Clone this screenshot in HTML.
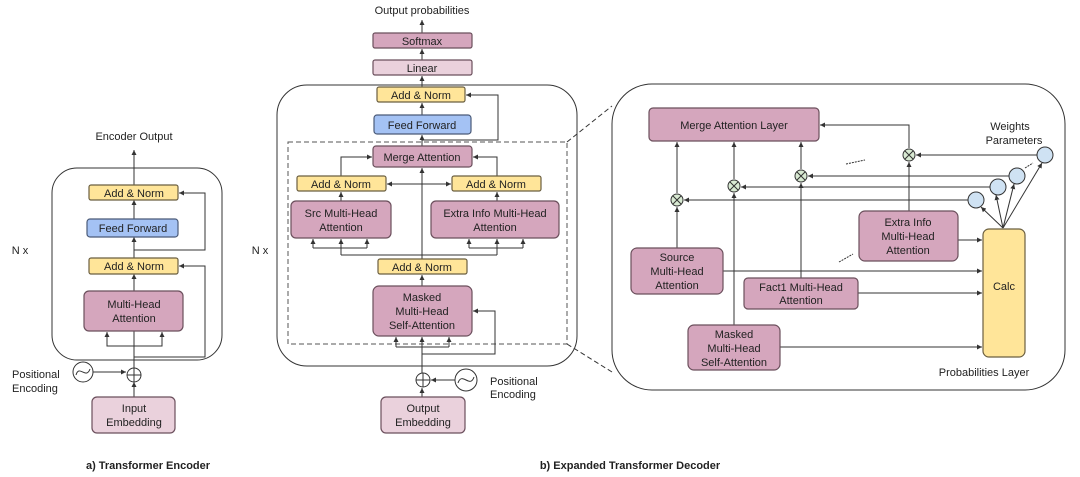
<!DOCTYPE html>
<html><head><meta charset="utf-8"><style>
body{margin:0;background:#fff}
svg{display:block}
text{font-family:"Liberation Sans",sans-serif;font-size:11px;fill:#222}
.p{fill:#d5a6bd;stroke:#6b4f5c;stroke-width:1.2}
.y{fill:#ffe599;stroke:#6b5f40;stroke-width:1.2}
.b{fill:#a4c2f4;stroke:#4a5a78;stroke-width:1.2}
.l{fill:#ead1dc;stroke:#6b4f5c;stroke-width:1.2}
.ln{stroke:#333;stroke-width:1;fill:none}
</style></head><body>
<svg width="1080" height="477" viewBox="0 0 1080 477" xmlns="http://www.w3.org/2000/svg">
<defs><marker id="a" markerWidth="6" markerHeight="6" refX="5" refY="3" orient="auto"><path d="M0,0.5 L5,3 L0,5.5z" fill="#333"/></marker></defs>
<g text-anchor="middle">
<!-- ENCODER -->
<rect x="52" y="168" width="170" height="192" rx="25" fill="none" stroke="#333"/>
<text x="134" y="140">Encoder Output</text>
<text x="20" y="254">N x</text>
<text x="260" y="254">N x</text>
<path class="ln" d="M134,397 V382"  marker-end="url(#a)"/>
<path class="ln" d="M134,368 V291" marker-end="url(#a)"/>
<path class="ln" d="M134,331 V274" marker-end="url(#a)"/>
<path class="ln" d="M134,258 V237" marker-end="url(#a)"/>
<path class="ln" d="M134,219 V200" marker-end="url(#a)"/>
<path class="ln" d="M134,185 V150" marker-end="url(#a)"/>
<path class="ln" d="M134,250 H205 V193 H179" marker-end="url(#a)"/>
<path class="ln" d="M134,357 H205 V266 H179" marker-end="url(#a)"/>
<path class="ln" d="M134,346 H107 V332" marker-end="url(#a)"/>
<path class="ln" d="M134,346 H162 V332" marker-end="url(#a)"/>
<rect class="y" x="89" y="185" width="89" height="15" rx="2"/><text x="134" y="197">Add &amp; Norm</text>
<rect class="b" x="87" y="219" width="91" height="18" rx="3"/><text x="133" y="232">Feed Forward</text>
<rect class="y" x="89" y="258" width="89" height="16" rx="2"/><text x="134" y="270">Add &amp; Norm</text>
<rect class="p" x="84" y="291" width="99" height="40" rx="5"/><text x="134" y="308">Multi-Head</text><text x="134" y="322">Attention</text>
<circle cx="134" cy="375" r="7" fill="#fff" stroke="#333"/><path class="ln" d="M127,375H141M134,368V382"/>
<circle cx="83" cy="372" r="10" fill="#fff" stroke="#333"/><path class="ln" d="M76,375 C79,364 86,380 90,369"/>
<path class="ln" d="M93,372 H126" marker-end="url(#a)"/>
<text x="12" y="378" text-anchor="start">Positional</text><text x="12" y="392" text-anchor="start">Encoding</text>
<rect class="l" x="92" y="397" width="83" height="36" rx="5"/><text x="134" y="412">Input</text><text x="134" y="426">Embedding</text>
<!-- DECODER -->
<text x="422" y="14">Output probabilities</text>
<rect x="277" y="85" width="300" height="281" rx="30" fill="none" stroke="#333"/>
<rect x="288" y="142" width="279" height="202" fill="none" stroke="#555" stroke-dasharray="5,3"/>
<path class="ln" stroke-dasharray="5,3" d="M567,142 L612,106 M567,344 L612,372"/>
<path class="ln" d="M422,33 V20" marker-end="url(#a)"/>
<path class="ln" d="M422,60 V49" marker-end="url(#a)"/>
<path class="ln" d="M422,87 V76" marker-end="url(#a)"/>
<path class="ln" d="M422,115 V103" marker-end="url(#a)"/>
<path class="ln" d="M422,146 V135" marker-end="url(#a)"/>
<path class="ln" d="M422,140 H498 V95 H466" marker-end="url(#a)"/>
<path class="ln" d="M422,259 V168" marker-end="url(#a)"/>
<path class="ln" d="M422,184 H387" marker-end="url(#a)"/>
<path class="ln" d="M422,184 H451" marker-end="url(#a)"/>
<path class="ln" d="M341,176 V157 H372" marker-end="url(#a)"/>
<path class="ln" d="M497,176 V157 H473" marker-end="url(#a)"/>
<path class="ln" d="M341,201 V192" marker-end="url(#a)"/>
<path class="ln" d="M497,201 V192" marker-end="url(#a)"/>
<path class="ln" d="M341,255 H497"/>
<path class="ln" d="M341,255 V239" marker-end="url(#a)"/>
<path class="ln" d="M313,248 H367"/><path class="ln" d="M313,248 V239" marker-end="url(#a)"/><path class="ln" d="M367,248 V239" marker-end="url(#a)"/>
<path class="ln" d="M497,255 V239" marker-end="url(#a)"/>
<path class="ln" d="M469,248 H523"/><path class="ln" d="M469,248 V239" marker-end="url(#a)"/><path class="ln" d="M523,248 V239" marker-end="url(#a)"/>
<path class="ln" d="M422,286 V275" marker-end="url(#a)"/>
<path class="ln" d="M422,397 V388" marker-end="url(#a)"/>
<path class="ln" d="M422,373 V337" marker-end="url(#a)"/>
<path class="ln" d="M422,354 H495 V311 H473" marker-end="url(#a)"/>
<path class="ln" d="M396,347 H449"/><path class="ln" d="M396,347 V337" marker-end="url(#a)"/><path class="ln" d="M449,347 V337" marker-end="url(#a)"/>
<rect class="p" x="373" y="33" width="99" height="15" rx="2"/><text x="422" y="45">Softmax</text>
<rect class="l" x="373" y="60" width="99" height="15" rx="2"/><text x="422" y="72">Linear</text>
<rect class="y" x="377" y="87" width="88" height="15" rx="2"/><text x="421" y="99">Add &amp; Norm</text>
<rect class="b" x="374" y="115" width="97" height="19" rx="3"/><text x="422" y="129">Feed Forward</text>
<rect class="p" x="373" y="146" width="99" height="21" rx="3"/><text x="422" y="161">Merge Attention</text>
<rect class="y" x="297" y="176" width="89" height="15" rx="2"/><text x="341" y="188">Add &amp; Norm</text>
<rect class="y" x="452" y="176" width="89" height="15" rx="2"/><text x="496" y="188">Add &amp; Norm</text>
<rect class="p" x="291" y="201" width="100" height="37" rx="5"/><text x="341" y="217">Src Multi-Head</text><text x="341" y="231">Attention</text>
<rect class="p" x="431" y="201" width="128" height="37" rx="5"/><text x="495" y="217">Extra Info Multi-Head</text><text x="495" y="231">Attention</text>
<rect class="y" x="378" y="259" width="89" height="15" rx="2"/><text x="422" y="271">Add &amp; Norm</text>
<rect class="p" x="373" y="286" width="99" height="50" rx="6"/><text x="422" y="301">Masked</text><text x="422" y="315">Multi-Head</text><text x="422" y="329">Self-Attention</text>
<circle cx="423" cy="380" r="7" fill="#fff" stroke="#333"/><path class="ln" d="M416,380H430M423,373V387"/>
<circle cx="466" cy="380" r="11" fill="#fff" stroke="#333"/><path class="ln" d="M458,383 C462,371 470,389 474,377"/>
<path class="ln" d="M455,380 H431" marker-end="url(#a)"/>
<text x="490" y="385" text-anchor="start">Positional</text><text x="490" y="398" text-anchor="start">Encoding</text>
<rect class="l" x="381" y="397" width="84" height="36" rx="5"/><text x="423" y="412">Output</text><text x="423" y="426">Embedding</text>
<!-- RIGHT PANEL -->
<rect x="612" y="84" width="453" height="306" rx="40" fill="none" stroke="#333"/>
<path class="ln" d="M677,248 V207" marker-end="url(#a)"/>
<path class="ln" d="M677,193 V142" marker-end="url(#a)"/>
<path class="ln" d="M734,325 V193" marker-end="url(#a)"/>
<path class="ln" d="M734,179 V142" marker-end="url(#a)"/>
<path class="ln" d="M801,278 V183" marker-end="url(#a)"/>
<path class="ln" d="M801,169 V142" marker-end="url(#a)"/>
<path class="ln" d="M909,211 V162" marker-end="url(#a)"/>
<path class="ln" d="M909,148 V125 H820" marker-end="url(#a)"/>
<path class="ln" d="M968,200 H684" marker-end="url(#a)"/>
<path class="ln" d="M990,187 H741" marker-end="url(#a)"/>
<path class="ln" d="M1009,176 H808" marker-end="url(#a)"/>
<path class="ln" d="M1037,155 H916" marker-end="url(#a)"/>
<path class="ln" d="M723,271 H982" marker-end="url(#a)"/>
<path class="ln" d="M858,293 H982" marker-end="url(#a)"/>
<path class="ln" d="M958,240 H982" marker-end="url(#a)"/>
<path class="ln" d="M780,347 H982" marker-end="url(#a)"/>
<path class="ln" d="M1003,228 L981,207" marker-end="url(#a)"/>
<path class="ln" d="M1003,228 L996,195" marker-end="url(#a)"/>
<path class="ln" d="M1003,228 L1014,184" marker-end="url(#a)"/>
<path class="ln" d="M1003,228 L1042,163" marker-end="url(#a)"/>
<path class="ln" stroke-dasharray="2,1" d="M846,164 L865,160 M839,262 L853,254 M1025,168 L1033,163"/>
<rect class="p" x="649" y="108" width="170" height="33" rx="4"/><text x="734" y="129">Merge Attention Layer</text>
<rect class="p" x="859" y="211" width="99" height="50" rx="6"/><text x="908" y="226">Extra Info</text><text x="908" y="240">Multi-Head</text><text x="908" y="254">Attention</text>
<rect class="p" x="631" y="248" width="92" height="46" rx="6"/><text x="677" y="261">Source</text><text x="677" y="275">Multi-Head</text><text x="677" y="289">Attention</text>
<rect class="p" x="744" y="278" width="114" height="31" rx="4"/><text x="801" y="291">Fact1 Multi-Head</text><text x="801" y="304">Attention</text>
<rect class="p" x="688" y="325" width="92" height="45" rx="6"/><text x="734" y="338">Masked</text><text x="734" y="352">Multi-Head</text><text x="734" y="366">Self-Attention</text>
<rect x="983" y="229" width="42" height="128" rx="6" fill="#ffe599" stroke="#6b5f40" stroke-width="1.2"/><text x="1004" y="290">Calc</text>
<g fill="#d9ead3" stroke="#333">
<circle cx="677" cy="200" r="6"/><circle cx="734" cy="186" r="6"/><circle cx="801" cy="176" r="6"/><circle cx="909" cy="155" r="6"/>
</g>
<path class="ln" d="M673,196l8,8m0-8l-8,8M730,182l8,8m0-8l-8,8M797,172l8,8m0-8l-8,8M905,151l8,8m0-8l-8,8"/>
<g fill="#cfe2f3" stroke="#333">
<circle cx="976" cy="200" r="8"/><circle cx="998" cy="187" r="8"/><circle cx="1017" cy="176" r="8"/><circle cx="1045" cy="155" r="8"/>
</g>
<text x="1010" y="130">Weights</text><text x="1014" y="144">Parameters</text>
<text x="984" y="376">Probabilities Layer</text>
<text x="148" y="469" font-weight="bold" font-size="12">a) Transformer Encoder</text>
<text x="630" y="469" font-weight="bold" font-size="12">b) Expanded Transformer Decoder</text>
</g>
</svg>
</body></html>
